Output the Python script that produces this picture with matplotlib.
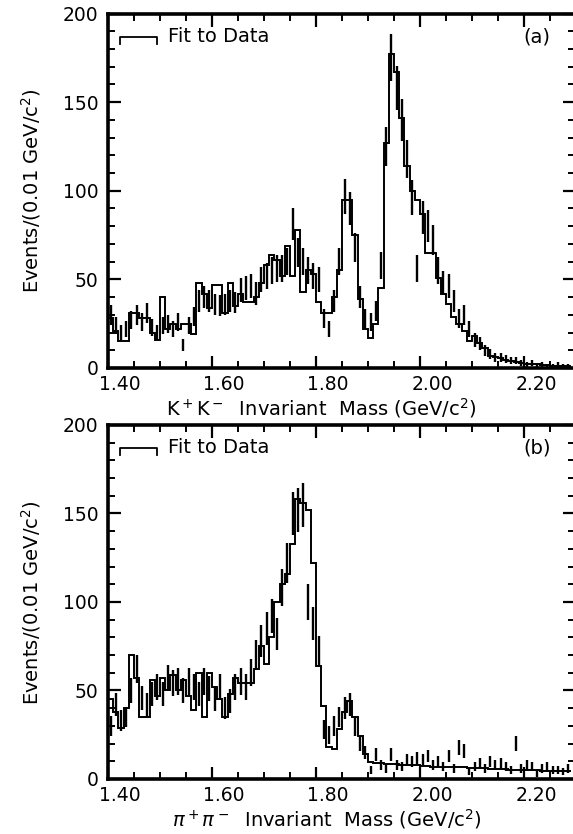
import numpy as np
import matplotlib
matplotlib.use("Agg")
import matplotlib.pyplot as plt
import matplotlib.transforms as mtrans
from matplotlib.ticker import MultipleLocator

# bin edges, 0.01 GeV/c^2 bins from 1.40 to 2.29
mass_lo = 1.40
bin_w = 0.01
n_bins = 89

# (a) K+K- : fit histogram and data
fit_a = [28, 21, 15, 15, 31, 31, 28, 28, 20, 16,
         40, 22, 25, 22, 25, 25, 19, 48, 42, 34,
         47, 47, 31, 48, 35, 42, 37, 37, 40, 48,
         58, 64, 61, 52, 69, 52, 78, 43, 55, 53,
         37, 31, 31, 40, 55, 95, 95, 75, 39, 22,
         17, 25, 45, 127, 177, 167, 141, 114, 100, 95,
         87, 65, 65, 51, 42, 36, 29, 25, 21, 15,
         18, 14, 11, 7, 6, 5.5, 4.5, 4, 3.5, 3,
         2.5, 2, 2, 1.5, 1.5, 1, 1, 1, 1]
data_a = [30, 24, 20, 22, 27, 30, 26, 31, 23, 20,
          24, 25, 22, 26, 13, 24, 29, 38, 40, 38,
          36, 35, 36, 38, 37, 44, 45, 46, 42, 50,
          52, 55, 56, 56, 60, 81, 65, 60, 55, 52,
          50, 28, 22, 38, 60, 97, 90, 68, 40, 28,
          26, 32, 58, 125, 175, 158, 140, 118, 96, 56,
          85, 80, 72, 55, 48, 46, 38, 28, 30, 22,
          16, 14, 10, 8, 6, 6, 5, 4, 4, 3,
          2, 3, 1, 2, 1, 1, 2, 1, 1]

# (b) pi+pi- : fit histogram and data
fit_b = [45, 38, 29, 40, 70, 57, 35, 35, 56, 47,
         57, 50, 59, 50, 56, 47, 39, 60, 35, 60,
         52, 45, 35, 48, 57, 54, 54, 54, 62, 75,
         65, 80, 100, 110, 116, 133, 158, 156, 152, 122,
         64, 41, 18, 17, 28, 38, 44, 35, 24, 14,
         9.5, 9, 9, 8.5, 8.5, 8.5, 8, 8, 8, 8,
         7.5, 7.5, 7, 7, 7, 7, 6.5, 6.5, 6.5, 6,
         6, 6, 6, 5.5, 5.5, 5.5, 5.5, 5, 5, 5,
         5, 5, 5, 4.5, 4.5, 4.5, 4.5, 4.5, 4.5]
data_b = [30, 42, 33, 35, 50, 62, 46, 42, 48, 52,
          48, 57, 54, 55, 50, 55, 52, 48, 55, 51,
          45, 52, 40, 44, 52, 55, 52, 60, 70, 78,
          85, 92, 82, 108, 122, 150, 152, 155, 100, 88,
          72, 28, 25, 30, 35, 40, 42, 30, 20, 15,
          5, 14, 8, 6, 14, 8, 7, 11, 10, 12,
          11, 13, 8, 10, 7, 13, 6, 18, 16, 4,
          7, 9, 6, 10, 8, 9, 7, 5, 20, 6,
          8, 7, 3, 6, 7, 5, 5, 4, 6]

x_ticks = [1.40, 1.60, 1.80, 2.00, 2.20]
x_tick_labels = ['1.40', '1.60', '1.80', '2.00', '2.20']
y_ticks = [0, 50, 100, 150, 200]

edges = mass_lo + bin_w * np.arange(n_bins + 1)
centers = edges[:-1] + bin_w / 2

fig = plt.figure(figsize=(5.73, 8.34), dpi=100)
ax_a = fig.add_axes([0.1885, 0.5588, 0.815, 0.4250])
ax_b = fig.add_axes([0.1885, 0.0660, 0.815, 0.4245])


def draw_panel(ax, fit, data, tag):
    fit = np.array(fit, dtype=float)
    data = np.array(data, dtype=float)
    err = np.sqrt(data)
    ax.stairs(fit, edges, baseline=None, color='black', lw=1.4)
    ax.vlines(centers, data - err, data + err, color='black', lw=1.7)

    ax.set_xlim(1.40, 2.298)
    ax.set_ylim(0, 200)
    ax.set_xticks(x_ticks)
    ax.set_yticks(y_ticks)
    ax.xaxis.set_minor_locator(MultipleLocator(0.05))
    ax.yaxis.set_minor_locator(MultipleLocator(10))
    ax.tick_params(which='both', direction='in', top=True, right=True,
                   labelsize=13.5, pad=7, labelbottom=False)
    ax.tick_params(which='major', length=9, width=1.6)
    ax.tick_params(which='minor', length=5, width=1.4)
    for s in ax.spines.values():
        s.set_linewidth(2.6)

    # x tick labels sit a little right of their ticks in the original
    lab_tr = mtrans.offset_copy(ax.get_xaxis_transform(), fig=fig,
                                x=12, y=-17, units='dots')
    for xv, txt in zip(x_ticks, x_tick_labels):
        ax.text(xv, 0, txt, transform=lab_tr, fontsize=13.5,
                ha='center', va='center')

    # legend: little histogram step + label
    ax.plot([0.026, 0.026, 0.105, 0.105], [0.915, 0.935, 0.935, 0.915],
            transform=ax.transAxes, color='black', lw=1.3)
    ax.text(0.128, 0.935, 'Fit to Data', transform=ax.transAxes,
            fontsize=14, va='center', ha='left')
    ax.text(0.918, 0.935, tag, transform=ax.transAxes,
            fontsize=14, va='center', ha='center')


draw_panel(ax_a, fit_a, data_a, '(a)')
draw_panel(ax_b, fit_b, data_b, '(b)')

fig.text(0.055, 0.772, 'Events/(0.01 GeV/c$^2$)', rotation=90,
         fontsize=14, ha='center', va='center')
fig.text(0.055, 0.278, 'Events/(0.01 GeV/c$^2$)', rotation=90,
         fontsize=14, ha='center', va='center')
fig.text(0.56, 0.511, 'K$^+$K$^-$  Invariant  Mass (GeV/c$^2$)',
         fontsize=14, ha='center', va='center')
fig.text(0.57, 0.018, '$\\pi^+\\pi^-$  Invariant  Mass (GeV/c$^2$)',
         fontsize=14, ha='center', va='center')

fig.savefig('out.png', dpi=100)
